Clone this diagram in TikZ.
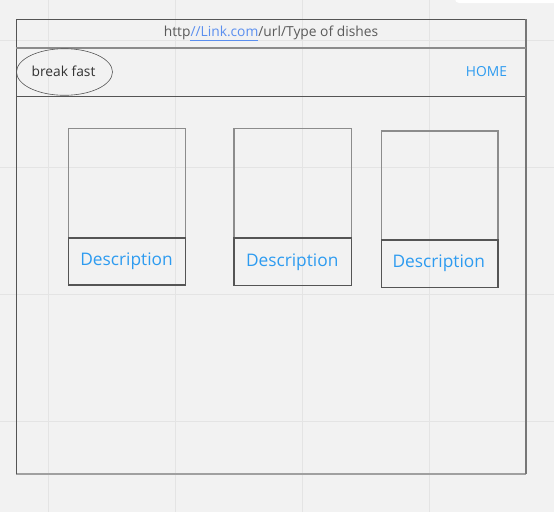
\documentclass[tikz,border=0pt]{standalone}
\usepackage{fontspec}
\setmainfont{Open Sans}
\usetikzlibrary{shapes.geometric}
\definecolor{bg}{HTML}{F2F2F2}
\definecolor{gridc}{HTML}{E4E4E4}
\definecolor{framec}{HTML}{555555}
\definecolor{lightframe}{HTML}{8C8C8C}
\definecolor{bottomframe}{HTML}{A0A0A0}
\definecolor{bluetext}{HTML}{2D9BF0}
\definecolor{linkc}{HTML}{5B8FEF}
\definecolor{darktext}{HTML}{333333}
\definecolor{urltext}{HTML}{5A5A5A}
\tikzset{
  gridline/.style={draw=gridc, line width=0.8pt},
  boxframe/.style={draw=framec, line width=1pt, rectangle, inner sep=0pt, anchor=north west},
  imgbox/.style={draw=lightframe, line width=1.2pt, rectangle, inner sep=0pt, anchor=north west},
  descbox/.style={draw=framec, line width=1.2pt, rectangle, inner sep=0pt, anchor=north west},
  desctext/.style={text=bluetext, font=\fontsize{17.3}{20}\selectfont, inner sep=0pt},
  smalltext/.style={font=\fontsize{13.8}{16}\selectfont, inner sep=0pt},
}
\begin{document}
\begin{tikzpicture}[x=1pt,y=-1pt]
\useasboundingbox (0,0) rectangle (554,512);
\fill[bg] (0,0) rectangle (554,512);
\foreach \x in {48,175.5,302.5,429.5} \draw[gridline] (\x,0) -- (\x,512);
\foreach \y in {40,167,294,421} \draw[gridline] (0,\y) -- (554,\y);
\fill[white, rounded corners=4pt] (455,-10) rectangle (570,3);
% page frame
\node[boxframe, draw=none, minimum width=508.4pt, minimum height=454pt] (page) at (16.3,19.3) {};
\draw[bottomframe, line width=1.8pt] (page.south west) -- (page.south east);
\draw[framec, line width=1.1pt] (page.south west) -- (page.north west) -- (page.north east);
\draw[framec!80!white, line width=1.6pt] (page.north east) -- (page.south east);
% url bar
\node[boxframe, draw=none, minimum width=508.4pt, minimum height=28pt] (urlbar) at (16.3,19.3) {};
\draw[lightframe, line width=2.3pt] (urlbar.south west) -- (urlbar.south east);
\node[smalltext, text=urltext, anchor=base] (url) at (271,36.3) {http\textcolor{linkc}{//Link.com}/url/Type of dishes};
\draw[linkc, line width=1pt] (190,40.6) -- (257.5,40.6);
% header
\coordinate (hl) at (16.3,96.7);
\coordinate (hr) at (524.7,96.7);
\draw[framec, line width=1pt] (hl) -- (hr);
\node[ellipse, draw=framec, line width=0.6pt, minimum width=96pt, minimum height=46.6pt, inner sep=0pt] (menu) at (64.5,72) {};
\node[smalltext, text=darktext] (bf) at (63.5,71.5) {break fast};
\node[smalltext, text=bluetext] (home) at (486.5,71.5) {HOME};
% cards
\node[imgbox, minimum width=117.3pt, minimum height=109.3pt] (img1) at (67.7,128) {};
\node[descbox, minimum width=117.3pt, minimum height=47pt] (d1) at (67.7,237.3) {};
\node[desctext] (t1) at (126.5,261.3) {Description};
\node[imgbox, minimum width=117.4pt, minimum height=109.3pt] (img2) at (233.3,128) {};
\node[descbox, minimum width=117.4pt, minimum height=47.4pt] (d2) at (233.3,237.3) {};
\node[desctext] (t2) at (292.2,261.8) {Description};
\node[imgbox, minimum width=116.6pt, minimum height=109pt] (img3) at (380.7,130.3) {};
\node[descbox, minimum width=116.6pt, minimum height=47.4pt] (d3) at (380.7,239.3) {};
\node[desctext] (t3) at (438.8,263.7) {Description};
\end{tikzpicture}
\end{document}
